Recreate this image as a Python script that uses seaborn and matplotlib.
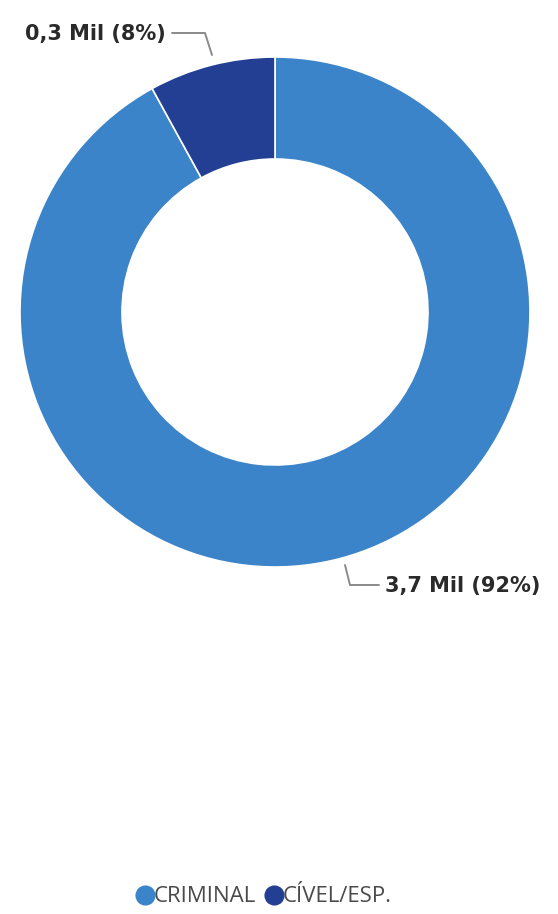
import matplotlib
matplotlib.use("Agg")
import matplotlib.pyplot as plt
from matplotlib.lines import Line2D
import seaborn as sns

# data
categories = ["CRIMINAL", "CÍVEL/ESP."]
values = [3.7, 0.3]
percents = [92, 8]
labels = ["3,7 Mil (92%)", "0,3 Mil (8%)"]
colors = ["#3b84c9", "#233f94"]

sns.set_style("white")
plt.rcParams['font.family'] = ['Open Sans', 'DejaVu Sans']

W, H = 558, 914
fig = plt.figure(figsize=(W / 100, H / 100), dpi=100)

# donut centre (275, 312) px, radius 255 px
cx, cy, R = 275, 312, 255
ax = fig.add_axes([(cx - R) / W, (H - cy - R) / H, 2 * R / W, 2 * R / H])

ax.pie(percents, colors=colors, startangle=90, counterclock=False,
       radius=1.0, wedgeprops=dict(width=0.4, edgecolor="white", linewidth=1.2))
ax.set_xlim(-1, 1)
ax.set_ylim(-1, 1)
ax.set_aspect("equal")
ax.axis("off")


def px(x, y):
    return (x - cx) / R, (cy - y) / R


# leader lines + labels
line_kw = dict(color="#8a8a8a", lw=1.4, clip_on=False)
lab_kw = dict(fontsize=15, fontweight="bold", color="#2a2a2a",
              family=["DejaVu Sans"], clip_on=False)
p = [px(172, 33), px(205, 33), px(212, 55)]
ax.plot([q[0] for q in p], [q[1] for q in p], **line_kw)
tx, ty = px(166, 34)
ax.text(tx, ty, labels[1], ha="right", va="center", **lab_kw)

p = [px(345, 565), px(350, 585), px(379, 585)]
ax.plot([q[0] for q in p], [q[1] for q in p], **line_kw)
tx, ty = px(385, 586)
ax.text(tx, ty, labels[0], ha="left", va="center", **lab_kw)

# legend
handles = [Line2D([0], [0], marker="o", linestyle="", markersize=13.5,
                  markerfacecolor=c, markeredgecolor=c) for c in colors]
fig.legend(handles, categories, loc="center", ncol=2,
           bbox_to_anchor=(264 / W, 1 - 897 / H), frameon=False,
           handletextpad=0.0, columnspacing=0.4, handlelength=0.8,
           prop={"size": 16}, labelcolor="#4a4a4a")

fig.savefig("out.png", dpi=100)
